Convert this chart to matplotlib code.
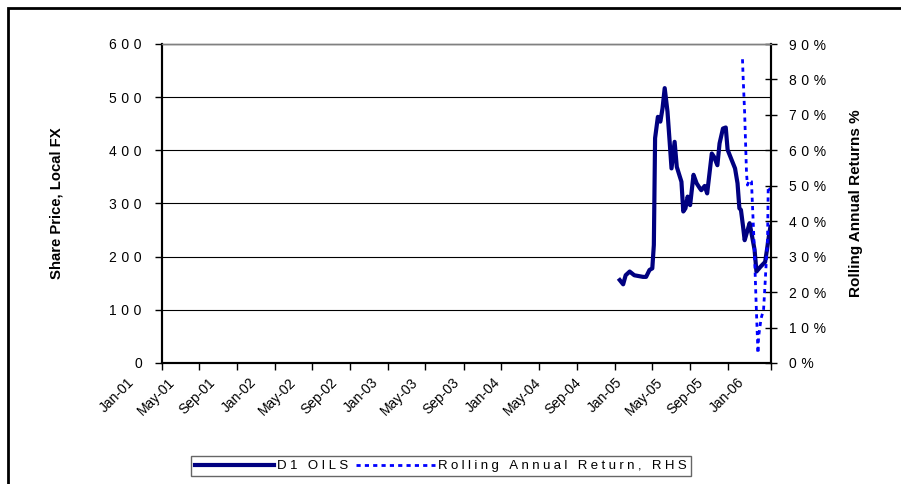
import pandas as pd
import numpy as np
import matplotlib
matplotlib.use('Agg')
import matplotlib.pyplot as plt
import matplotlib.dates as mdates
from matplotlib.patches import Rectangle
from matplotlib.ticker import FixedLocator
from matplotlib.transforms import ScaledTranslation

plt.rcParams['font.family'] = ['Liberation Sans', 'DejaVu Sans']

# D1 Oils share price (local FX)
price_dates = ['2005-01-17', '2005-01-28', '2005-02-05', '2005-02-18', '2005-03-05',
               '2005-04-02', '2005-04-12', '2005-04-23', '2005-05-02', '2005-05-07',
               '2005-05-11', '2005-05-20', '2005-05-28', '2005-06-04', '2005-06-11',
               '2005-06-20', '2005-06-27', '2005-07-03', '2005-07-13', '2005-07-20',
               '2005-07-28', '2005-08-04', '2005-08-10', '2005-08-17', '2005-08-24',
               '2005-09-01', '2005-09-12', '2005-09-22', '2005-10-02', '2005-10-07',
               '2005-10-18', '2005-10-26', '2005-11-10', '2005-11-17', '2005-11-28',
               '2005-12-05', '2005-12-16', '2005-12-25', '2005-12-31', '2006-01-13',
               '2006-01-24', '2006-02-01', '2006-02-07', '2006-02-12', '2006-02-19',
               '2006-02-24', '2006-03-04', '2006-03-12', '2006-03-20', '2006-03-28',
               '2006-04-03', '2006-04-16', '2006-05-01', '2006-05-07', '2006-05-13',
               '2006-05-18']
price = [156, 148, 165, 172, 165,
         162, 162, 175, 178, 222,
         423, 463, 454, 479, 517,
         473, 416, 366, 416, 369,
         354, 341, 285, 291, 313,
         297, 354, 338, 329, 325,
         333, 319, 394, 388, 372,
         413, 441, 443, 401, 382,
         366, 338, 291, 288, 256,
         231, 247, 263, 238, 213,
         172, 181, 190, 213, 238,
         256]

# rolling annual return, % (right axis)
ret_dates = ['2006-02-17', '2006-02-19', '2006-02-24', '2006-02-27', '2006-03-02',
             '2006-03-05', '2006-03-11', '2006-03-18', '2006-03-21', '2006-03-27',
             '2006-04-02', '2006-04-08', '2006-04-10', '2006-04-18', '2006-04-26',
             '2006-05-01', '2006-05-09', '2006-05-11', '2006-05-20']
ret = [85.7, 80.8, 70.4, 62.0, 53.5,
       50.2, 51.6, 51.2, 45.0, 32.8,
       16.9, 2.7, 7.4, 12.6, 15.0,
       22.5, 35.6, 49.8, 48.8]

x_start = pd.Timestamp('2001-01-01')
x_end = pd.Timestamp('2006-05-20')
tick_dates = pd.date_range('2001-01-01', '2006-01-01', freq='4MS')


def spaced(s, sp='\u2004'):
    return sp.join(s)


fig = plt.figure(figsize=(9.01, 4.84), dpi=100)
ax = fig.add_axes([162 / 901, 121 / 484, 609 / 901, 319 / 484])
ax2 = ax.twinx()

ax.plot(pd.to_datetime(price_dates), price, color='#000080', lw=3,
        solid_joinstyle='round', label=spaced('D1 OILS', '\u2005'))
ax2.plot(pd.to_datetime(ret_dates), ret, color='#0000FF', lw=2,
         linestyle=(0, (1.5, 1.5)), label=spaced('Rolling Annual Return, RHS', '\u2005'))

ax.set_xlim(x_start, x_end)
ax.set_ylim(0, 600)
ax2.set_ylim(0, 90)

ax.set_yticks(np.arange(0, 601, 100))
ax.set_yticklabels([spaced(str(v)) for v in range(0, 601, 100)], fontsize=10)
ax2.set_yticks(np.arange(0, 91, 10))
ax2.set_yticklabels([spaced('%d%%' % v) for v in range(0, 91, 10)], fontsize=10)

xt = list(mdates.date2num(tick_dates)) + [mdates.date2num(x_end)]
ax.xaxis.set_major_locator(FixedLocator(xt))
ax.set_xticklabels([d.strftime('%b-%y') for d in tick_dates] + [''],
                   rotation=45, ha='right', fontsize=10)

ax.grid(axis='y', color='black', lw=0.8)
ax.set_axisbelow(True)

for a in (ax, ax2):
    a.spines['top'].set_color('#808080')
    a.spines['top'].set_linewidth(1)
    for s in ('left', 'bottom', 'right'):
        a.spines[s].set_linewidth(1.5)
ax.tick_params(axis='y', direction='out', length=5, width=1, pad=9.5)
ax.tick_params(axis='x', direction='out', length=5, width=1, pad=4)
ax2.tick_params(axis='y', direction='inout', length=8, width=1, pad=9)

# in the original the date labels are spread a little wider than the ticks:
# first label ends ~25px left of its tick, last one ~18px right of it
for i, lab in enumerate(ax.get_xticklabels()):
    dx = -25 + 2.94 * i
    lab.set_transform(lab.get_transform() + ScaledTranslation(dx / 100, 0, fig.dpi_scale_trans))

ax.set_ylabel('Share Price, Local FX', fontsize=10.7, fontweight='bold', labelpad=33)
ax2.set_ylabel('Rolling Annual Returns %', fontsize=11, fontweight='bold', labelpad=16)

h1, l1 = ax.get_legend_handles_labels()
h2, l2 = ax2.get_legend_handles_labels()
leg = fig.legend(h1 + h2, l1 + l2, loc='center', bbox_to_anchor=(441 / 901, 1 - 466 / 484),
                 ncol=2, fontsize=9.5, frameon=True, fancybox=False, edgecolor='#404040',
                 handlelength=6.0, handletextpad=0.2, columnspacing=0.6, borderpad=0.3)
leg.get_frame().set_linewidth(1)

fig.patches.append(Rectangle((8 / 901, -0.1), 1.2, 1 - 8 / 484 + 0.1, transform=fig.transFigure,
                             fill=False, lw=2, ec='black'))

fig.savefig('out.png', dpi=100)
